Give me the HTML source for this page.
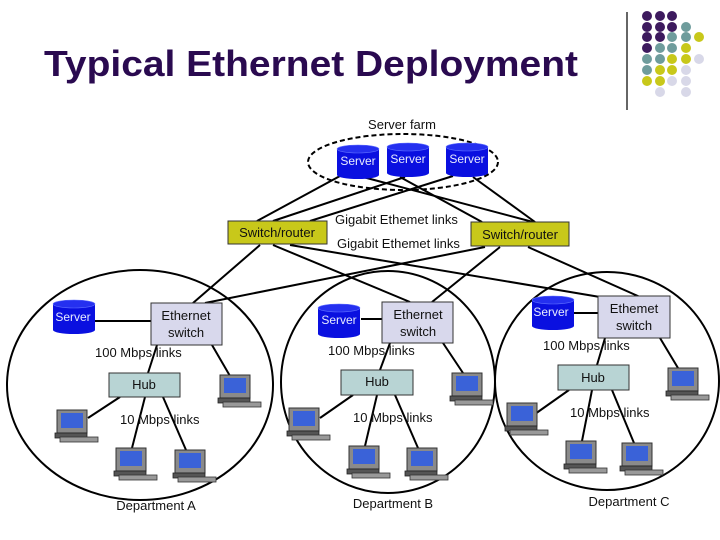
<!DOCTYPE html>
<html><head><meta charset="utf-8"><style>
body{margin:0;background:#fff;width:720px;height:540px;overflow:hidden}
svg{display:block}
text{font-family:"Liberation Sans",Arial,sans-serif}
</style></head><body>
<svg width="720" height="540" viewBox="0 0 720 540" xmlns="http://www.w3.org/2000/svg">
<defs>
<g id="pc">
 <rect x="0" y="0" width="30" height="23" fill="#8a8a8a" stroke="#333" stroke-width="1"/>
 <rect x="4" y="3" width="22" height="15" fill="#3a62d8"/>
 <rect x="-2" y="23" width="32" height="5" fill="#555" stroke="#222" stroke-width="0.8"/>
 <rect x="3" y="27" width="38" height="5" fill="#999" stroke="#333" stroke-width="0.8"/>
</g>
<g id="cyl">
 <rect x="0" y="4" width="42" height="26" fill="#0a10e0"/>
 <ellipse cx="21" cy="30" rx="21" ry="4" fill="#0a10e0"/>
 <ellipse cx="21" cy="4" rx="21" ry="4" fill="#2530f0" stroke="#6070ff" stroke-width="0.6"/>
</g>
</defs>

<text x="44" y="76" font-size="36" font-weight="bold" fill="#2a0a50" textLength="534" lengthAdjust="spacingAndGlyphs">Typical Ethernet Deployment</text>
<line x1="627" y1="12" x2="627" y2="110" stroke="#000" stroke-width="1.2"/>
<g>
<circle cx="647" cy="16" r="5" fill="#3d1a5e"/><circle cx="660" cy="16" r="5" fill="#3d1a5e"/><circle cx="672" cy="16" r="5" fill="#3d1a5e"/>
<circle cx="647" cy="27" r="5" fill="#3d1a5e"/><circle cx="660" cy="27" r="5" fill="#3d1a5e"/><circle cx="672" cy="27" r="5" fill="#3d1a5e"/><circle cx="686" cy="27" r="5" fill="#6e9c9c"/>
<circle cx="647" cy="37" r="5" fill="#3d1a5e"/><circle cx="660" cy="37" r="5" fill="#3d1a5e"/><circle cx="672" cy="37" r="5" fill="#6e9c9c"/><circle cx="686" cy="37" r="5" fill="#6e9c9c"/><circle cx="699" cy="37" r="5" fill="#c8c81a"/>
<circle cx="647" cy="48" r="5" fill="#3d1a5e"/><circle cx="660" cy="48" r="5" fill="#6e9c9c"/><circle cx="672" cy="48" r="5" fill="#6e9c9c"/><circle cx="686" cy="48" r="5" fill="#c8c81a"/>
<circle cx="647" cy="59" r="5" fill="#6e9c9c"/><circle cx="660" cy="59" r="5" fill="#6e9c9c"/><circle cx="672" cy="59" r="5" fill="#c8c81a"/><circle cx="686" cy="59" r="5" fill="#c8c81a"/><circle cx="699" cy="59" r="5" fill="#d8d8e8"/>
<circle cx="647" cy="70" r="5" fill="#6e9c9c"/><circle cx="660" cy="70" r="5" fill="#c8c81a"/><circle cx="672" cy="70" r="5" fill="#c8c81a"/><circle cx="686" cy="70" r="5" fill="#d8d8e8"/>
<circle cx="647" cy="81" r="5" fill="#c8c81a"/><circle cx="660" cy="81" r="5" fill="#c8c81a"/><circle cx="672" cy="81" r="5" fill="#d8d8e8"/><circle cx="686" cy="81" r="5" fill="#d8d8e8"/>
<circle cx="660" cy="92" r="5" fill="#d8d8e8"/><circle cx="686" cy="92" r="5" fill="#d8d8e8"/>
</g>

<g stroke="#000" stroke-width="2" fill="none">
<ellipse cx="140" cy="385" rx="133" ry="115"/>
<ellipse cx="388" cy="382" rx="107" ry="111"/>
<ellipse cx="607" cy="381" rx="112" ry="109"/>
<ellipse cx="403" cy="162" rx="95" ry="28" stroke-dasharray="5,3"/>
<line x1="257" y1="221" x2="340" y2="176"/>
<line x1="273" y1="221" x2="405" y2="177"/>
<line x1="310" y1="221" x2="453" y2="176"/>
<line x1="363" y1="177" x2="533" y2="222"/>
<line x1="400" y1="177" x2="482" y2="222"/>
<line x1="473" y1="177" x2="535" y2="222"/>
<line x1="260" y1="245" x2="193" y2="303"/>
<line x1="273" y1="245" x2="410" y2="302"/>
<line x1="290" y1="245" x2="600" y2="297"/>
<line x1="485" y1="247" x2="205" y2="303"/>
<line x1="500" y1="247" x2="432" y2="302"/>
<line x1="528" y1="247" x2="640" y2="297"/>
<line x1="95" y1="321" x2="151" y2="321"/>
<line x1="157" y1="345" x2="148" y2="373"/>
<line x1="212" y1="345" x2="230" y2="376"/>
<line x1="120" y1="397" x2="88" y2="418"/>
<line x1="145" y1="397" x2="132" y2="448"/>
<line x1="163" y1="397" x2="186" y2="450"/>
<line x1="361" y1="319" x2="382" y2="319"/>
<line x1="390" y1="343" x2="380" y2="370"/>
<line x1="443" y1="343" x2="463" y2="373"/>
<line x1="353" y1="395" x2="320" y2="418"/>
<line x1="377" y1="395" x2="365" y2="446"/>
<line x1="395" y1="395" x2="418" y2="448"/>
<line x1="574" y1="313" x2="598" y2="313"/>
<line x1="605" y1="338" x2="597" y2="365"/>
<line x1="660" y1="338" x2="678" y2="368"/>
<line x1="569" y1="390" x2="535" y2="414"/>
<line x1="592" y1="390" x2="582" y2="441"/>
<line x1="612" y1="390" x2="634" y2="443"/>
</g>

<use href="#cyl" x="337" y="145"/>
<use href="#cyl" x="387" y="143"/>
<use href="#cyl" x="446" y="143"/>
<use href="#cyl" x="53" y="300"/>
<use href="#cyl" x="318" y="304"/>
<use href="#cyl" x="532" y="296"/>
<g font-size="12" fill="#e8ecff" text-anchor="middle">
<text x="358" y="165">Server</text>
<text x="408" y="163">Server</text>
<text x="467" y="163">Server</text>
<text x="73" y="321">Server</text>
<text x="339" y="324">Server</text>
<text x="551" y="316">Server</text>
</g>

<rect x="228" y="221" width="99" height="23" fill="#c8c81a" stroke="#333" stroke-width="1"/>
<rect x="471" y="222" width="98" height="24" fill="#c8c81a" stroke="#333" stroke-width="1"/>
<rect x="151" y="303" width="71" height="42" fill="#d8d8ec" stroke="#333" stroke-width="1"/>
<rect x="382" y="302" width="71" height="41" fill="#d8d8ec" stroke="#333" stroke-width="1"/>
<rect x="598" y="296" width="72" height="42" fill="#d8d8ec" stroke="#333" stroke-width="1"/>
<rect x="109" y="373" width="71" height="24" fill="#b8d4d4" stroke="#333" stroke-width="1"/>
<rect x="341" y="370" width="72" height="25" fill="#b8d4d4" stroke="#333" stroke-width="1"/>
<rect x="558" y="365" width="71" height="25" fill="#b8d4d4" stroke="#333" stroke-width="1"/>

<use href="#pc" x="220" y="375"/>
<use href="#pc" x="57" y="410"/>
<use href="#pc" x="116" y="448"/>
<use href="#pc" x="175" y="450"/>
<use href="#pc" x="452" y="373"/>
<use href="#pc" x="289" y="408"/>
<use href="#pc" x="349" y="446"/>
<use href="#pc" x="407" y="448"/>
<use href="#pc" x="668" y="368"/>
<use href="#pc" x="507" y="403"/>
<use href="#pc" x="566" y="441"/>
<use href="#pc" x="622" y="443"/>

<g font-size="13" fill="#111">
<text x="402" y="129" text-anchor="middle">Server farm</text>
<text x="277" y="237" text-anchor="middle">Switch/router</text>
<text x="520" y="239" text-anchor="middle">Switch/router</text>
<text x="335" y="224">Gigabit Ethemet links</text>
<text x="337" y="248">Gigabit Ethemet links</text>
<text x="186" y="320" text-anchor="middle">Ethernet</text>
<text x="186" y="337" text-anchor="middle">switch</text>
<text x="418" y="319" text-anchor="middle">Ethernet</text>
<text x="418" y="336" text-anchor="middle">switch</text>
<text x="634" y="313" text-anchor="middle">Ethemet</text>
<text x="634" y="330" text-anchor="middle">switch</text>
<text x="95" y="357">100 Mbps links</text>
<text x="328" y="355">100 Mbps links</text>
<text x="543" y="350">100 Mbps links</text>
<text x="144" y="389" text-anchor="middle">Hub</text>
<text x="377" y="386" text-anchor="middle">Hub</text>
<text x="593" y="382" text-anchor="middle">Hub</text>
<text x="120" y="424">10 Mbps links</text>
<text x="353" y="422">10 Mbps links</text>
<text x="570" y="417">10 Mbps links</text>
<text x="156" y="510" text-anchor="middle">Department A</text>
<text x="393" y="508" text-anchor="middle">Department B</text>
<text x="629" y="506" text-anchor="middle">Department C</text>
</g>
</svg>
</body></html>
